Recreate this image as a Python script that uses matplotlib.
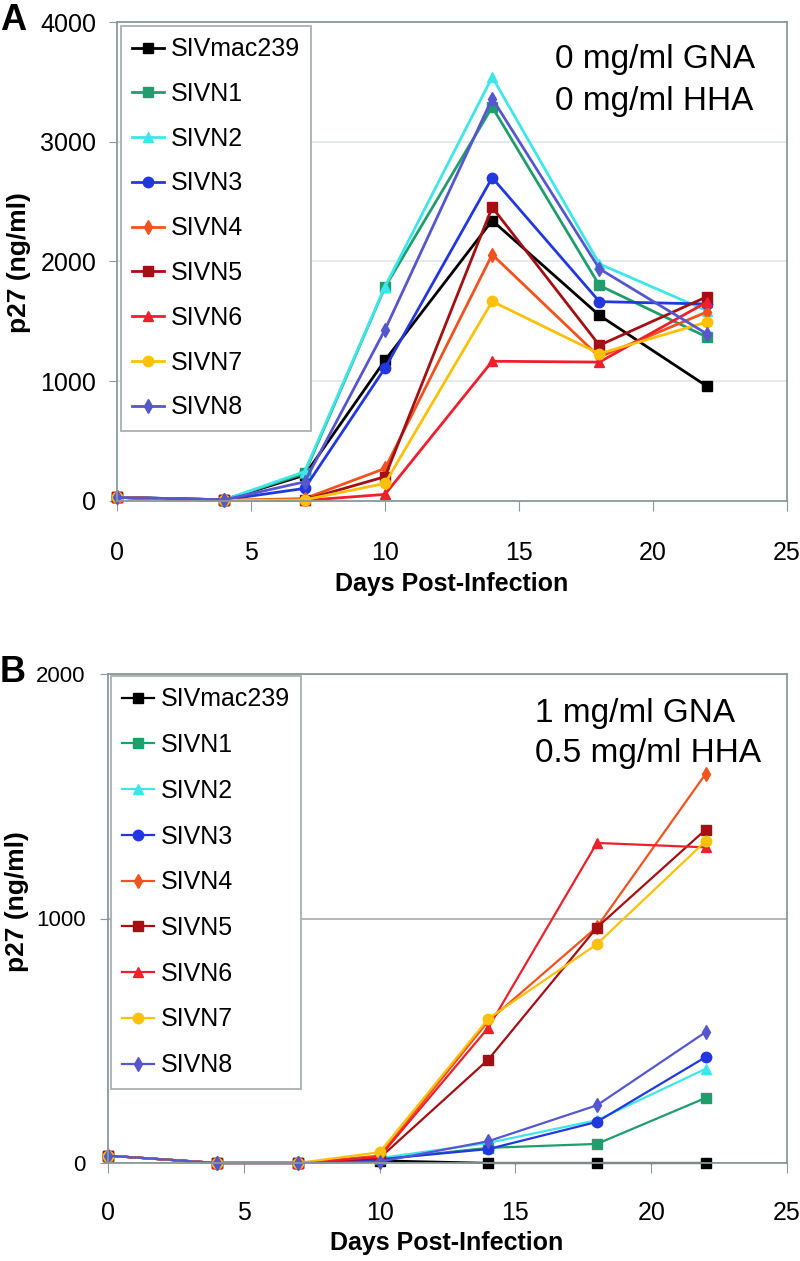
import numpy as np
import matplotlib.pyplot as plt

plt.rcParams['font.family'] = 'Liberation Sans'

days = [0, 4, 7, 10, 14, 18, 22]
strains = ['SIVmac239', 'SIVN1', 'SIVN2', 'SIVN3', 'SIVN4',
           'SIVN5', 'SIVN6', 'SIVN7', 'SIVN8']

# panel A: 0 mg/ml GNA, 0 mg/ml HHA
p27_a = {
    'SIVmac239': [30, 10, 215, 1175, 2342, 1550, 960],
    'SIVN1': [30, 10, 230, 1786, 3290, 1800, 1370],
    'SIVN2': [30, 10, 245, 1790, 3540, 1980, 1590],
    'SIVN3': [30, 10, 105, 1110, 2700, 1665, 1645],
    'SIVN4': [30, 5, 20, 272, 2058, 1203, 1578],
    'SIVN5': [30, 5, 10, 203, 2453, 1300, 1705],
    'SIVN6': [30, 5, 5, 55, 1167, 1160, 1660],
    'SIVN7': [30, 5, 10, 147, 1667, 1230, 1494],
    'SIVN8': [30, 10, 160, 1430, 3361, 1939, 1397],
}
# panel B: 1 mg/ml GNA, 0.5 mg/ml HHA
p27_b = {
    'SIVmac239': [30, 0, 0, 10, 0, 0, 0],
    'SIVN1': [30, 0, 0, 15, 62, 78, 266],
    'SIVN2': [30, 0, 0, 20, 82, 175, 385],
    'SIVN3': [30, 0, 0, 15, 57, 168, 433],
    'SIVN4': [30, 0, 0, 30, 580, 965, 1591],
    'SIVN5': [30, 0, 0, 20, 423, 963, 1363],
    'SIVN6': [30, 0, 0, 25, 553, 1309, 1291],
    'SIVN7': [30, 0, 0, 44, 590, 895, 1316],
    'SIVN8': [30, 0, 0, 5, 89, 236, 535],
}

colors = ['#000000', '#1f9d6c', '#3ee6ea', '#2237e0', '#f2521e',
          '#a30f12', '#ef1f2c', '#fbc10a', '#5656cf']
markers = ['s', 's', '^', 'o', 'd', 's', '^', 'o', 'd']

W, H = 800, 1261
fig = plt.figure(figsize=(W / 100, H / 100), dpi=100)


def px_axes(l, t, r, b):
    return fig.add_axes([l / W, 1 - b / H, (r - l) / W, (b - t) / H])


def ftext(x, y, s, **kw):
    return fig.text(x / W, 1 - y / H, s, **kw)


def style(ax, ymax, grid_color, xpad, ypad, ysize):
    ax.set_xlim(0, 25)
    ax.set_ylim(0, ymax)
    ax.set_xticks(np.arange(0, 26, 5))
    ax.set_yticks(np.arange(0, ymax + 1, 1000))
    ax.grid(axis='y', color=grid_color, lw=1.2)
    ax.set_axisbelow(True)
    for s in ax.spines.values():
        s.set_color('#8c9898')
        s.set_linewidth(1.3)
    ax.tick_params(axis='x', direction='out', length=7, color='#8c9898',
                   pad=xpad, labelsize=18)
    ax.tick_params(axis='y', direction='out', length=6, color='#8c9898',
                   pad=ypad, labelsize=ysize)


def draw(ax, data, lw, ms, anchor, spacing):
    for name, c, m in zip(strains, colors, markers):
        ax.plot(days, data[name], color=c, marker=m, lw=lw, ms=ms,
                mec=c, label=name, clip_on=False)
    leg = ax.legend(loc='upper left', bbox_to_anchor=anchor,
                    fancybox=False, framealpha=1, edgecolor='#a8b0b0',
                    fontsize=18, handlelength=1.25, handletextpad=0.3,
                    labelspacing=spacing, borderpad=0.45, borderaxespad=0.0)
    leg.get_frame().set_linewidth(1.3)


axA = px_axes(117, 22, 787, 501)
draw(axA, p27_a, 2.0, 7.5, (4 / 670, 1 - 4 / 479), 0.83)
style(axA, 4000, '#dfe6e6', 22, 9, 18)

axB = px_axes(108, 674, 787, 1163)
draw(axB, p27_b, 1.6, 7.5, (3 / 679, 1 - 2 / 489), 0.87)
style(axB, 2000, '#a4acac', 20, 10, 16)

ftext(555, 68, '0 mg/ml GNA', fontsize=24)
ftext(555, 110, '0 mg/ml HHA', fontsize=24)
ftext(535, 722, '1 mg/ml GNA', fontsize=24)
ftext(535, 762, '0.5 mg/ml HHA', fontsize=24)

ftext(452, 591, 'Days Post-Infection', fontsize=18, weight='bold',
      ha='center')
ftext(447, 1250, 'Days Post-Infection', fontsize=18, weight='bold',
      ha='center')
ftext(19, 263, 'p27 (ng/ml)', fontsize=19, weight='bold', rotation=90,
      ha='center', va='center')
ftext(17, 902, 'p27 (ng/ml)', fontsize=19, weight='bold', rotation=90,
      ha='center', va='center')

ftext(0, 30, 'A', fontsize=26, weight='bold')
ftext(0, 682, 'B', fontsize=26, weight='bold')

fig.savefig('out.png', dpi=100)
